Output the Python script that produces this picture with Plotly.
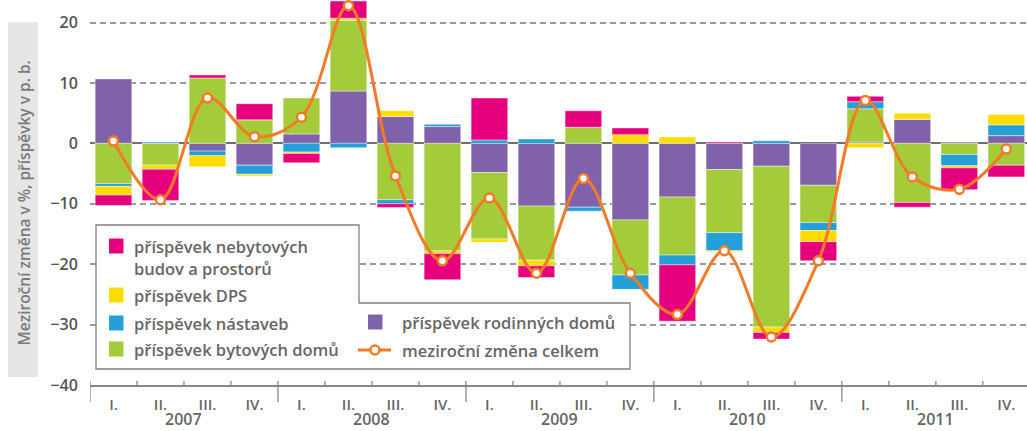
import plotly.graph_objects as go

# ---------------- data ----------------
years = ["2007", "2008", "2009", "2010", "2011"]
quarters = ["I.", "II.", "III.", "IV."]
categories = [f"{q} {y}" for y in years for q in quarters]
quarter_labels = [q for y in years for q in quarters]

rodinne = [10.67, 0.0, -1.28, -3.61, 1.56, 8.67, 4.44, 2.78, -4.83, -10.39,
           -10.56, -12.67, -8.89, -4.33, -3.78, -6.94, 0.22, 4.0, 0.22, 1.28]
bytove = [-6.67, -3.6, 10.83, 3.89, 5.94, 11.72, -9.33, -17.8, -11.0, -8.94,
          2.67, -9.11, -9.61, -10.45, -26.62, -6.17, 5.5, -9.78, -1.83, -3.61]
nastavby = [-0.45, 0.2, -0.78, -1.5, -1.44, -0.72, -0.67, 0.39, 0.56, 0.72,
            -0.67, -2.39, -1.61, -3.0, 0.44, -1.33, 1.17, 0.0, -1.89, 1.78]
dps = [-1.44, -0.67, -1.83, -0.28, -0.22, 0.33, 0.94, -0.45, -0.56, -0.94,
       0.0, 1.44, 1.06, -0.17, -0.89, -1.83, -0.72, 1.0, -0.33, 1.72]
nebytove = [-1.72, -5.17, 0.5, 2.67, -1.56, 2.83, -0.61, -4.33, 6.94, -1.94,
            2.72, 1.11, -9.33, 0.22, -1.11, -3.17, 0.89, -0.78, -3.61, -1.94]
celkem = [0.38, -9.33, 7.5, 1.11, 4.33, 22.78, -5.39, -19.45, -9.06, -21.5,
          -5.83, -21.5, -28.33, -17.78, -32.06, -19.45, 7.11, -5.56, -7.61, -0.94]

ytick_vals = [20, 10, 0, -10, -20, -30, -40]
ytick_text = ["20", "10", "0", "\u221210", "\u221220", "\u221230", "\u221240"]

# ---------------- style ----------------
C_PURPLE = "#8062aa"
C_GREEN = "#a4cb3a"
C_BLUE = "#259fd8"
C_YELLOW = "#ffdc00"
C_PINK = "#e6007e"
C_ORANGE = "#f37b28"
TXT = "#666666"
FONT = "Open Sans"
LEG_SIZE = 16.5

W, H = 1027, 431
ML, MR, MT, MB = 90, 0, 0, 46
PW, PH = W - ML - MR, H - MT - MB


def px(x):
    return (x - ML) / PW


def py(y):
    return (H - MB - y) / PH


fig = go.Figure()
series = [
    ("příspěvek rodinných domů", rodinne, C_PURPLE),
    ("příspěvek bytových domů", bytove, C_GREEN),
    ("příspěvek nástaveb", nastavby, C_BLUE),
    ("příspěvek DPS", dps, C_YELLOW),
    ("příspěvek nebytových budov a prostorů", nebytove, C_PINK),
]
for name, vals, col in series:
    fig.add_trace(go.Bar(
        x=categories, y=vals, name=name, marker_color=col,
        marker_line=dict(width=0.8, color="rgba(255,255,255,0.55)"),
        width=0.78, showlegend=False,
    ))

fig.add_trace(go.Scatter(
    x=categories, y=celkem, name="meziroční změna celkem",
    mode="lines+markers", line=dict(color=C_ORANGE, width=3, shape="spline", smoothing=1.0),
    marker=dict(symbol="circle", size=9, color="white", line=dict(color=C_ORANGE, width=2.5)),
    showlegend=False,
))

shapes = []
annotations = []

# y-axis title box
shapes.append(dict(type="rect", xref="paper", yref="paper",
                   x0=px(8), x1=px(38), y0=py(377), y1=py(22),
                   fillcolor="#e6e6e6", line_width=0, layer="below"))
annotations.append(dict(xref="paper", yref="paper", x=px(23.5), y=py(203),
                        xanchor="center", yanchor="middle",
                        text="Meziroční změna v %, příspěvky v p. b.", textangle=-90,
                        showarrow=False,
                        font=dict(family=FONT, size=15.5, color="#7a7a7a", weight=600)))

# x-axis ticks: quarter ticks and year separators
n = len(categories)
for k in range(n):
    pos = k - 0.5
    if k % 4 == 0:
        shapes.append(dict(type="line", xref="x", yref="paper", x0=pos, x1=pos,
                           y0=py(381), y1=py(402), line=dict(color="#888888", width=1.3)))
    else:
        shapes.append(dict(type="line", xref="x", yref="paper", x0=pos, x1=pos,
                           y0=py(381), y1=py(385), line=dict(color="#888888", width=1.3)))

for i, y in enumerate(years):
    annotations.append(dict(xref="x", yref="paper", x=i * 4 + 1.5, y=py(431),
                            xanchor="center", yanchor="bottom", borderpad=0,
                            text=y, showarrow=False,
                            font=dict(family=FONT, size=16, color=TXT, weight=600)))

# legend box (L-shape)
path = (f"M {px(96)},{py(225)} L {px(359)},{py(225)} L {px(359)},{py(303)} "
        f"L {px(630)},{py(303)} L {px(630)},{py(369)} L {px(96)},{py(369)} Z")
shapes.append(dict(type="path", xref="paper", yref="paper", path=path,
                   fillcolor="white", line=dict(color="#808080", width=1.3), layer="above"))

legend_left = [
    (C_PINK, 246, ["příspěvek nebytových", "budov a prostorů"]),
    (C_YELLOW, 295, ["příspěvek DPS"]),
    (C_BLUE, 323, ["příspěvek nástaveb"]),
    (C_GREEN, 349, ["příspěvek bytových domů"]),
]
for col, yc, lines in legend_left:
    shapes.append(dict(type="rect", xref="paper", yref="paper",
                       x0=px(109), x1=px(123.5), y0=py(yc + 7.5), y1=py(yc - 7.5),
                       fillcolor=col, line_width=0, layer="above"))
    for j, t in enumerate(lines):
        annotations.append(dict(xref="paper", yref="paper", x=px(132), y=py(yc + j * 22),
                                xanchor="left", yanchor="middle", text=t, showarrow=False,
                                font=dict(family=FONT, size=LEG_SIZE, color=TXT, weight=600)))

shapes.append(dict(type="rect", xref="paper", yref="paper",
                   x0=px(368), x1=px(382.5), y0=py(329.5), y1=py(314.5),
                   fillcolor=C_PURPLE, line_width=0, layer="above"))
annotations.append(dict(xref="paper", yref="paper", x=px(400), y=py(322),
                        xanchor="left", yanchor="middle", text="příspěvek rodinných domů",
                        showarrow=False, font=dict(family=FONT, size=LEG_SIZE, color=TXT, weight=600)))
shapes.append(dict(type="line", xref="paper", yref="paper",
                   x0=px(358), x1=px(391), y0=py(350), y1=py(350),
                   line=dict(color=C_ORANGE, width=3), layer="above"))
shapes.append(dict(type="circle", xref="paper", yref="paper",
                   x0=px(370.5), x1=px(379.5), y0=py(354.5), y1=py(345.5),
                   fillcolor="white", line=dict(color=C_ORANGE, width=2.5), layer="above"))
annotations.append(dict(xref="paper", yref="paper", x=px(400), y=py(350),
                        xanchor="left", yanchor="middle", text="meziroční změna celkem",
                        showarrow=False, font=dict(family=FONT, size=LEG_SIZE, color=TXT, weight=600)))

fig.update_layout(
    width=W, height=H,
    margin=dict(l=ML, r=MR, t=MT, b=MB, pad=0),
    barmode="relative", bargap=0.22,
    plot_bgcolor="white", paper_bgcolor="white",
    font=dict(family=FONT, color=TXT),
    shapes=shapes, annotations=annotations,
    xaxis=dict(
        type="category", range=[-0.5, 19.44],
        tickmode="array", tickvals=categories, ticktext=quarter_labels,
        ticks="outside", ticklen=5, tickcolor="rgba(0,0,0,0)",
        showline=True, linecolor="#888888", linewidth=1.5,
        showgrid=False, zeroline=False,
        tickfont=dict(family=FONT, size=15, color=TXT, weight=600),
    ),
    yaxis=dict(
        range=[-40.0, 23.73],
        tickmode="array", tickvals=ytick_vals, ticktext=ytick_text,
        ticks="outside", ticklen=8, tickcolor="rgba(0,0,0,0)",
        showgrid=True, gridcolor="#9a9a9a", gridwidth=1.5, griddash="6px,4px",
        zeroline=True, zerolinecolor="#6e6e6e", zerolinewidth=1.5,
        showline=False,
        tickfont=dict(family=FONT, size=16, color="#555555", weight=600),
    ),
)

# the page body has a default 8px margin; remove it so the figure sits at the window's origin
fig.write_html("out.html", config={"displayModeBar": False},
               post_script="document.body.style.margin='0';")
